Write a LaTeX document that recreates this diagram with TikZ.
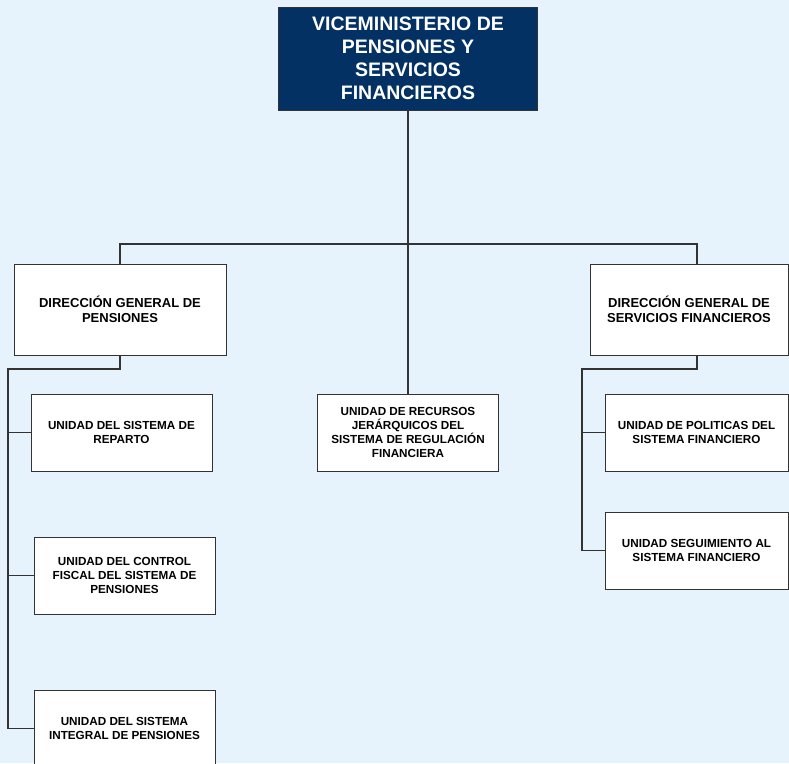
\documentclass[tikz,border=0pt]{standalone}
\usepackage{fontspec}
\setmainfont{Liberation Sans}
\definecolor{bgc}{RGB}{230,243,253}
\definecolor{navy}{RGB}{4,49,99}
\definecolor{linec}{RGB}{51,51,51}
\begin{document}
\begin{tikzpicture}[x=1pt,y=-1pt,
  box/.style={draw=linec,line width=1pt,fill=white,align=center,font=\bfseries\fontsize{11.7}{13.7}\selectfont,inner sep=0pt},
  dirbox/.style={box,font=\bfseries\fontsize{13}{15}\selectfont},
  topbox/.style={draw=linec,line width=1pt,fill=navy,text=white,align=center,font=\bfseries\fontsize{19.5}{23}\selectfont,inner sep=0pt},
  conn/.style={draw=linec,line width=1.4pt}]
\fill[bgc] (0,0) rectangle (789,763);
\useasboundingbox (0,0) rectangle (789,763);
\node[topbox,minimum width=259pt,minimum height=103pt] (top) at (408,58.5) {VICEMINISTERIO DE\\PENSIONES Y\\SERVICIOS\\FINANCIEROS};
\node[dirbox,minimum width=212pt,minimum height=91pt] (dgp) at (120,309.5) {DIRECCIÓN GENERAL DE\\PENSIONES};
\node[dirbox,minimum width=198pt,minimum height=91pt] (dgsf) at (689,309.5) {DIRECCIÓN GENERAL DE\\SERVICIOS FINANCIEROS};
\node[box,minimum width=181pt,minimum height=77pt] (urj) at (408,432.5) {UNIDAD DE RECURSOS\\JERÁRQUICOS DEL\\SISTEMA DE REGULACIÓN\\FINANCIERA};
\node[box,minimum width=181pt,minimum height=77pt] (usr) at (121.5,432.5) {UNIDAD DEL SISTEMA DE\\REPARTO};
\node[box,minimum width=181pt,minimum height=77pt] (ucf) at (124.5,575.5) {UNIDAD DEL CONTROL\\FISCAL DEL SISTEMA DE\\PENSIONES};
\node[box,minimum width=181pt,minimum height=77pt] (usi) at (124.5,728.5) {UNIDAD DEL SISTEMA\\INTEGRAL DE PENSIONES};
\node[box,minimum width=183pt,minimum height=77pt] (upsf) at (696.5,432.5) {UNIDAD DE POLITICAS DEL\\SISTEMA FINANCIERO};
\node[box,minimum width=183pt,minimum height=77pt] (ussf) at (696.5,550.5) {UNIDAD SEGUIMIENTO AL\\SISTEMA FINANCIERO};
\coordinate (bar) at (408,244);
\coordinate (rn) at (697,264);
\coordinate (rs) at (697,355);
\coordinate (lt) at (8,369);
\coordinate (rt) at (582,369);
\draw[conn] (top.south) -- (urj.north);
\draw[conn] (dgp.north) |- (bar) -| (rn);
\draw[conn] (dgp.south) |- (lt) |- (usi.west);
\draw[conn] (lt |- usr.west) -- (usr.west);
\draw[conn] (lt |- ucf.west) -- (ucf.west);
\draw[conn] (rs) |- (rt) |- (ussf.west);
\draw[conn] (rt |- upsf.west) -- (upsf.west);
\end{tikzpicture}
\end{document}
